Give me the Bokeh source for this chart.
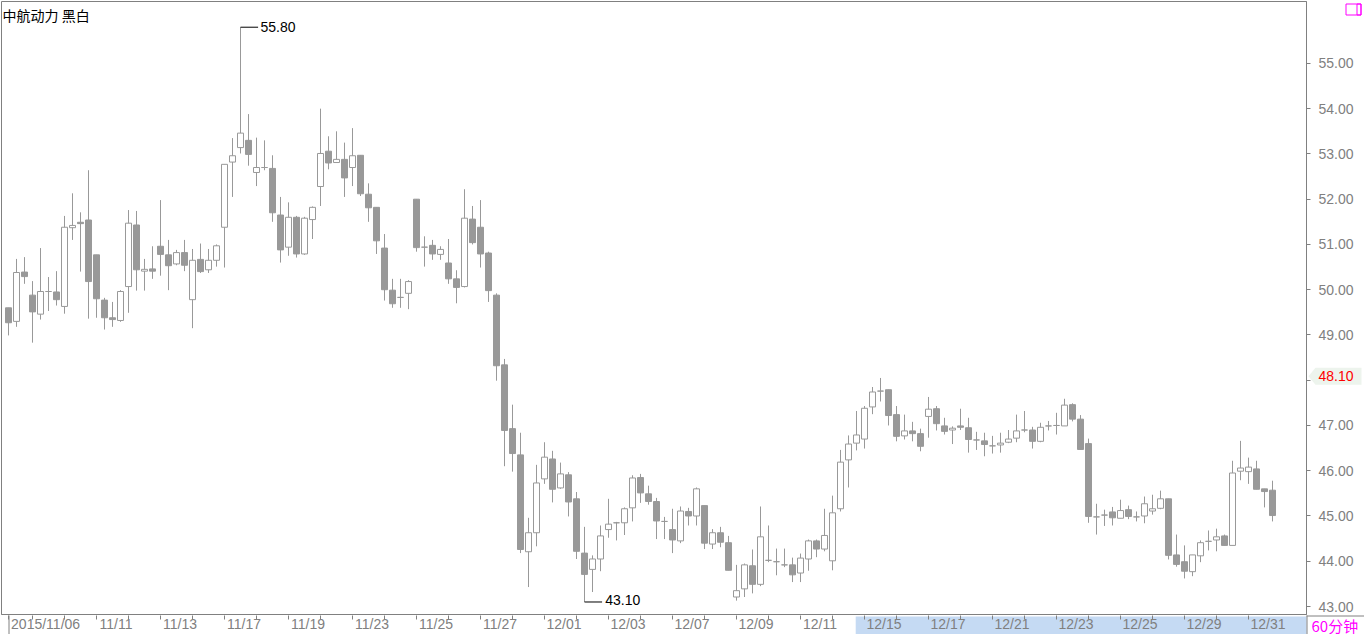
import numpy as np
from bokeh.plotting import figure
from bokeh.models import (Range1d, FixedTicker, CustomJSTickFormatter,
                          Label, ColumnDataSource)
from bokeh.core.properties import value
from bokeh.embed import file_html
from bokeh.resources import INLINE

# ---------------- data ----------------
title_text = "中航动力 黑白"
period_text = "60分钟"
price_tag = 48.10

days = ["2015/11/06", "11/09", "11/10", "11/11", "11/12", "11/13", "11/16", "11/17", "11/18",
        "11/19", "11/20", "11/23", "11/24", "11/25", "11/26", "11/27", "11/30", "12/01",
        "12/02", "12/03", "12/04", "12/07", "12/08", "12/09", "12/10", "12/11", "12/14",
        "12/15", "12/16", "12/17", "12/18", "12/21", "12/22", "12/23", "12/24", "12/25",
        "12/28", "12/29", "12/30", "12/31"]
bars_per_day = [3] + [4] * 39
labeled_days = [0] + list(range(3, 40, 2))
y_ticks = list(range(43, 56))

opens = [49.60, 49.30, 50.39, 49.88, 49.46, 49.96, 49.95, 49.63, 51.37, 51.49,
         51.54, 50.77, 49.77, 49.38, 49.32, 50.07, 51.43, 50.41, 50.46, 50.96,
         50.77, 50.57, 50.82, 49.78, 50.67, 50.44, 50.65, 51.38, 52.82, 53.14,
         53.30, 52.59, 52.70, 52.68, 51.65, 50.94, 51.60, 50.79, 51.55, 52.28,
         53.06, 52.81, 52.88, 52.70, 52.97, 52.11, 51.82, 50.92, 49.99, 49.83,
         49.92, 52.00, 50.94, 50.98, 50.78, 50.59, 50.24, 50.07, 51.56, 51.38,
         50.81, 49.88, 48.34, 46.93, 46.35, 44.21, 44.63, 45.82, 46.26, 45.62,
         45.91, 45.38, 44.18, 43.82, 44.05, 44.70, 44.85, 44.85, 45.18, 45.85,
         45.49, 45.32, 44.88, 44.70, 44.45, 45.10, 45.00, 45.23, 44.38, 44.63,
         44.41, 43.21, 43.39, 43.90, 43.49, 44.02, 43.99, 43.92, 43.92, 43.74,
         44.05, 44.45, 44.27, 44.01, 45.16, 46.24, 46.61, 46.70, 47.41, 47.76,
         47.79, 47.24, 46.77, 46.88, 46.82, 47.20, 47.37, 46.99, 46.90, 46.99,
         46.95, 46.68, 46.66, 46.55, 46.57, 46.63, 46.72, 46.90, 46.90, 46.65,
         46.99, 47.00, 46.99, 47.46, 47.14, 46.60, 44.98, 45.02, 45.09, 44.95,
         45.14, 44.98, 45.00, 45.11, 45.17, 45.38, 44.14, 43.99, 43.77, 44.12,
         44.44, 44.47, 44.56, 44.35, 45.99, 45.98, 46.04, 45.60, 45.57]
highs = [49.60, 50.68, 50.72, 50.19, 50.92, 50.28, 50.41, 51.63, 52.13, 51.71,
         52.64, 50.77, 49.82, 49.73, 49.99, 51.76, 51.74, 50.68, 50.96, 51.98,
         51.10, 50.88, 51.10, 50.90, 51.02, 50.90, 51.00, 52.77, 53.35, 55.80,
         53.88, 53.36, 53.30, 52.97, 52.05, 51.93, 51.63, 51.61, 51.84, 54.00,
         53.39, 53.50, 53.25, 53.57, 52.97, 52.35, 51.82, 51.23, 50.24, 50.24,
         50.21, 52.00, 51.18, 51.10, 50.96, 51.12, 50.43, 52.22, 51.85, 51.98,
         50.84, 49.92, 48.47, 47.46, 46.84, 44.96, 46.13, 46.63, 46.44, 46.18,
         45.97, 45.53, 44.76, 44.13, 44.79, 45.38, 44.87, 45.19, 45.90, 45.93,
         45.67, 45.40, 44.98, 45.16, 45.21, 45.18, 45.63, 45.23, 44.71, 44.76,
         44.56, 43.92, 43.95, 44.26, 45.21, 44.79, 44.28, 44.28, 44.08, 44.17,
         44.48, 44.48, 45.16, 45.45, 46.46, 46.78, 47.32, 47.43, 47.85, 48.05,
         47.79, 47.43, 47.24, 47.08, 46.93, 47.63, 47.43, 47.17, 46.98, 47.37,
         47.17, 46.86, 46.84, 46.77, 46.84, 46.90, 47.24, 47.32, 46.97, 47.06,
         47.10, 47.28, 47.59, 47.49, 47.23, 46.71, 45.27, 45.14, 45.20, 45.36,
         45.23, 45.10, 45.43, 45.47, 45.56, 45.38, 44.59, 44.35, 44.14, 44.46,
         44.68, 44.72, 44.59, 46.22, 46.66, 46.29, 46.22, 45.60, 45.78]
lows = [48.99, 49.18, 50.13, 48.83, 49.34, 49.53, 49.65, 49.47, 51.10, 50.40,
        49.36, 49.38, 49.12, 49.18, 49.29, 49.49, 49.98, 49.98, 50.24, 50.31,
        49.99, 50.54, 50.41, 49.15, 50.37, 50.37, 50.51, 50.49, 52.05, 53.01,
        52.74, 52.29, 52.64, 51.50, 50.60, 50.75, 50.71, 50.77, 51.12, 51.85,
        52.66, 52.81, 52.05, 52.29, 52.07, 51.50, 50.79, 49.76, 49.60, 49.60,
        49.57, 50.84, 50.51, 50.66, 50.66, 50.13, 49.70, 50.05, 51.00, 50.49,
        49.73, 47.99, 46.10, 45.98, 44.18, 43.43, 44.33, 45.71, 45.30, 45.60,
        44.99, 44.05, 43.10, 43.32, 43.78, 44.52, 44.46, 44.58, 44.88, 45.29,
        45.25, 44.49, 44.49, 44.18, 44.40, 44.79, 44.79, 44.27, 44.27, 44.31,
        43.80, 43.13, 43.21, 43.29, 43.45, 43.98, 43.69, 43.87, 43.54, 43.54,
        43.79, 44.09, 44.22, 43.80, 45.10, 45.63, 46.45, 46.49, 47.25, 47.53,
        47.00, 46.65, 46.69, 46.65, 46.43, 46.73, 46.89, 46.80, 46.59, 46.90,
        46.40, 46.46, 46.32, 46.38, 46.40, 46.61, 46.63, 46.85, 46.49, 46.63,
        46.89, 46.80, 46.99, 47.09, 46.47, 44.85, 44.59, 44.78, 44.79, 44.95,
        44.93, 44.88, 44.84, 45.03, 45.15, 44.04, 43.88, 43.62, 43.67, 43.98,
        44.24, 44.22, 44.35, 44.35, 45.79, 45.71, 45.59, 45.19, 44.88]
closes = [49.27, 50.38, 50.29, 49.51, 49.96, 49.96, 49.78, 51.38, 51.42, 51.46,
          50.18, 49.80, 49.38, 49.34, 49.96, 51.47, 50.44, 50.45, 50.41, 50.78,
          50.53, 50.82, 50.54, 50.65, 50.40, 50.65, 50.97, 52.77, 52.96, 53.46,
          52.99, 52.70, 52.70, 51.70, 50.88, 51.60, 50.79, 51.58, 51.82, 53.01,
          52.80, 52.88, 52.47, 52.96, 52.12, 51.81, 51.08, 50.00, 49.69, 49.83,
          50.18, 50.93, 50.94, 50.79, 50.89, 50.24, 50.05, 51.58, 51.04, 50.79,
          49.98, 48.32, 46.89, 46.38, 44.26, 44.63, 45.73, 46.30, 45.59, 45.93,
          45.31, 44.22, 43.71, 44.05, 44.56, 44.82, 44.85, 45.16, 45.84, 45.51,
          45.32, 44.89, 44.88, 44.47, 45.11, 45.00, 45.60, 44.40, 44.63, 44.42,
          43.80, 43.35, 43.92, 43.49, 44.54, 44.02, 43.99, 43.92, 43.70, 44.07,
          44.45, 44.27, 44.57, 45.07, 46.19, 46.59, 46.79, 47.38, 47.74, 47.76,
          47.22, 46.76, 46.88, 46.82, 46.54, 47.36, 47.04, 46.87, 46.94, 46.96,
          46.69, 46.68, 46.58, 46.55, 46.61, 46.70, 46.88, 46.90, 46.65, 46.96,
          46.99, 47.00, 47.45, 47.14, 46.47, 44.99, 44.98, 45.02, 44.96, 45.12,
          44.99, 44.98, 45.27, 45.16, 45.38, 44.13, 43.93, 43.78, 44.14, 44.41,
          44.44, 44.54, 44.35, 45.95, 46.06, 46.08, 45.59, 45.54, 45.01]

# ---------------- layout ----------------
W, H = 1364, 634
BORDER_L, BORDER_T, BORDER_R, BORDER_B = 1, 1, 58, 19
FRAME_W = W - BORDER_L - BORDER_R
FRAME_H = H - BORDER_T - BORDER_B
FR = BORDER_L + FRAME_W          # frame right (canvas px)
FB = BORDER_T + FRAME_H          # frame bottom (canvas px)
X0, X1 = -0.875, 162.25
Y0, Y1 = 42.8235, 56.368
PX_X = FRAME_W / (X1 - X0)
PX_Y = FRAME_H / (Y1 - Y0)

GREY = "#999999"
AXIS_GREY = "#808080"
FONT = "Liberation Sans"
CJK = "Noto Sans CJK SC"

o = np.array(opens); h = np.array(highs); l = np.array(lows); c = np.array(closes)
x = np.arange(len(o))
up = c >= o

# ================= main chart (transparent, on top) =================
p = figure(width=W, height=H, output_backend="svg", toolbar_location=None,
           x_range=Range1d(X0, X1), y_range=Range1d(Y0, Y1), y_axis_location="right",
           min_border_left=BORDER_L, min_border_top=BORDER_T,
           min_border_right=BORDER_R, min_border_bottom=BORDER_B)
p.grid.visible = False
p.outline_line_color = AXIS_GREY
p.background_fill_alpha = 0
p.border_fill_alpha = 0

# candles
p.segment(x0=x, y0=h, x1=x, y1=l, line_color=GREY, line_width=1)
p.vbar(x="x", width=0.75, top="top", bottom="bottom", fill_color="white", line_color=GREY,
       source=ColumnDataSource(dict(x=x[up], top=c[up], bottom=o[up])))
p.vbar(x="x", width=0.75, top="top", bottom="bottom", fill_color=GREY, line_color=GREY,
       source=ColumnDataSource(dict(x=x[~up], top=o[~up], bottom=c[~up])))

# max / min markers
imax = int(np.argmax(h)); hmax = h[imax]
imin = int(np.argmin(l)); lmin = l[imin]
p.segment(x0=[imax, imin], y0=[hmax, lmin], x1=[imax + 2.2, imin + 2.2], y1=[hmax, lmin],
          line_color="black", line_width=1)
p.add_layout(Label(x=imax + 2.5, y=hmax, text=f"{hmax:.2f}", text_baseline="middle",
                   text_font=FONT, text_font_size="14px", text_color="black"))
p.add_layout(Label(x=imin + 2.6, y=lmin, text=f"{lmin:.2f}", text_baseline="alphabetic",
                   y_offset=2, text_font=FONT, text_font_size="14px", text_color="black"))

# title
p.add_layout(Label(x=X0, y=Y1, x_offset=1, y_offset=-3, text=title_text, text_baseline="top",
                   text_font=CJK, text_font_size="14px", text_color="black"))

# y axis (the label under the price tag is covered by the tag in the original)
ya = p.yaxis[0]
ya.ticker = FixedTicker(ticks=y_ticks)
ya.formatter = CustomJSTickFormatter(args=dict(tag=price_tag), code="""
    return Math.abs(tick - tag) < 0.3 ? "" : tick.toFixed(2);
""")
ya.axis_line_color = AXIS_GREY
ya.major_tick_line_color = AXIS_GREY
ya.major_tick_out = 4
ya.major_tick_in = 0
ya.minor_tick_line_color = None
ya.major_label_standoff = 8
ya.axis_label_standoff = 0
ya.major_label_text_color = AXIS_GREY
ya.major_label_text_font = FONT
ya.major_label_text_font_size = "14px"

# x axis: minor ticks at day starts, labels (as major ticks) just right of them
starts = np.concatenate([[0], np.cumsum(bars_per_day)[:-1]])
def text_w(s):
    return sum(3.9 if ch == "/" else 7.8 for ch in s)
label_pos = [float(starts[d] + (2 + text_w(days[d]) / 2) / PX_X) for d in labeled_days]
label_txt = [days[d] for d in labeled_days]
xa = p.xaxis[0]
xa.ticker = FixedTicker(ticks=label_pos, minor_ticks=[float(s) for s in starts])
xa.formatter = CustomJSTickFormatter(args=dict(pos=label_pos, labs=label_txt), code="""
    let best = 0, bd = 1e9;
    for (let i = 0; i < pos.length; i++) {
        const d = Math.abs(pos[i] - tick);
        if (d < bd) { bd = d; best = i; }
    }
    return labs[best];
""")
xa.axis_line_color = AXIS_GREY
xa.major_tick_line_color = None
xa.major_tick_out = 0
xa.major_tick_in = 0
xa.minor_tick_line_color = AXIS_GREY
xa.minor_tick_out = 1
xa.minor_tick_in = -5
xa.major_label_standoff = 0
xa.axis_label_standoff = 0
xa.major_label_text_color = AXIS_GREY
xa.major_label_text_font = FONT
xa.major_label_text_font_size = "14px"

# ================= backdrop (behind the chart, canvas pixel coords) =================
bg = figure(width=W, height=H, output_backend="svg", toolbar_location=None,
            x_range=Range1d(0, W), y_range=Range1d(H, 0),
            x_axis_type=None, y_axis_type=None,
            min_border_left=0, min_border_right=0, min_border_top=0, min_border_bottom=0,
            styles={"position": "absolute", "left": "0px", "top": "0px", "z-index": "-1"})
bg.grid.visible = False
bg.outline_line_color = None
bg.background_fill_color = "white"
bg.border_fill_color = "white"

# highlighted range on the time axis
band_left = BORDER_L + (starts[27] - 1.1 - X0) * PX_X
bg.quad(left=[band_left], right=[FR], top=[FB + 1], bottom=[H],
        fill_color="#c5daf3", line_color=None)

# axis lines continued into the corner, long first tick
first_tick = BORDER_L + (starts[0] - X0) * PX_X
bg.segment(x0=[FR, FR + 0.5, first_tick + 0.5], y0=[FB + 0.5, FB, FB],
           x1=[W, FR + 0.5, first_tick + 0.5], y1=[FB + 0.5, H, H],
           line_color=AXIS_GREY, line_width=1)

# price tag
ty = BORDER_T + (Y1 - price_tag) * PX_Y
bg.patch(x=[FR + 2, FR + 9, FR + 55, FR + 55, FR + 9], y=[ty, ty - 8.5, ty - 8.5, ty + 8.5, ty + 8.5],
         fill_color="#edf4ed", line_color=None)
bg.text(x=[FR + 12], y=[ty], text=[f"{price_tag:.2f}"], text_baseline="middle", text_align="left",
        text_font=value(FONT), text_font_size="14px", text_color="#ff0000")

# period label
bg.text(x=[FR + 5], y=[FB + 9.5], text=[period_text], text_baseline="middle", text_align="left",
        text_font=value(CJK), text_font_size="15px", text_color="#ff00ff")

# small magenta icon
bg.quad(left=[FR + 39.5, FR + 50.5], right=[FR + 54.5, FR + 54.5], top=[3.5, 3.5], bottom=[14.5, 14.5],
        fill_color=None, line_color="#ff00ff", line_width=1)

open("out.html", "w").write(file_html([bg, p], INLINE))
